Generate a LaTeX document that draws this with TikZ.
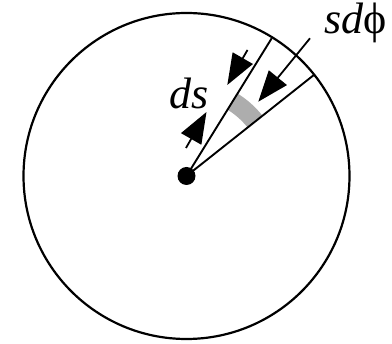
\documentclass[tikz,border=0pt]{standalone}
\usepackage{fontspec}
\setmainfont{Liberation Serif}
\usetikzlibrary{arrows.meta}
\begin{document}
\begin{tikzpicture}[x=1pt,y=-1pt,
  thinline/.style={line width=1.9pt},
  dimarrow/.style={line width=1.8pt,-{Triangle[length=31pt,width=23pt]}},
  lbl/.style={inner sep=0pt,font=\fontsize{44}{44}\selectfont}]
\useasboundingbox (0,0) rectangle (392,344);
% centre and radius
\coordinate (O) at (186.5,176);
% gray band
\fill[black!32] ([shift={(-58.25:78)}]O) arc[start angle=-58.25,end angle=-38.6,radius=78]
  -- ([shift={(-38.6:97)}]O) arc[start angle=-38.6,end angle=-58.25,radius=97] -- cycle;
\draw[line width=2.2pt] (O) circle[radius=163];
\coordinate (e1) at (271.7,38.3);
\coordinate (e2) at (314.5,74.5);
\draw[thinline] (O) -- (e1);
\draw[thinline] (O) -- (e2);
\fill (O) circle[radius=9];
% ds arrows
\coordinate (dsAtail) at (247.5,50);
\coordinate (dsAtip) at (227.3,85);
\coordinate (dsBtail) at (186,148);
\coordinate (dsBtip) at (206.5,112);
\draw[dimarrow] (dsAtail) -- (dsAtip);
\draw[dimarrow] (dsBtail) -- (dsBtip);
% s dphi arrow
\coordinate (sdtail) at (310,38.3);
\coordinate (sdtip) at (258.3,101.7);
\draw[dimarrow] (sdtail) -- (sdtip);
% labels
\node[lbl] (ds) at (189,93) {\itshape ds};
\node[lbl] (sdphi) at (356,23) {\itshape sd\upshape ϕ};
\end{tikzpicture}
\end{document}
